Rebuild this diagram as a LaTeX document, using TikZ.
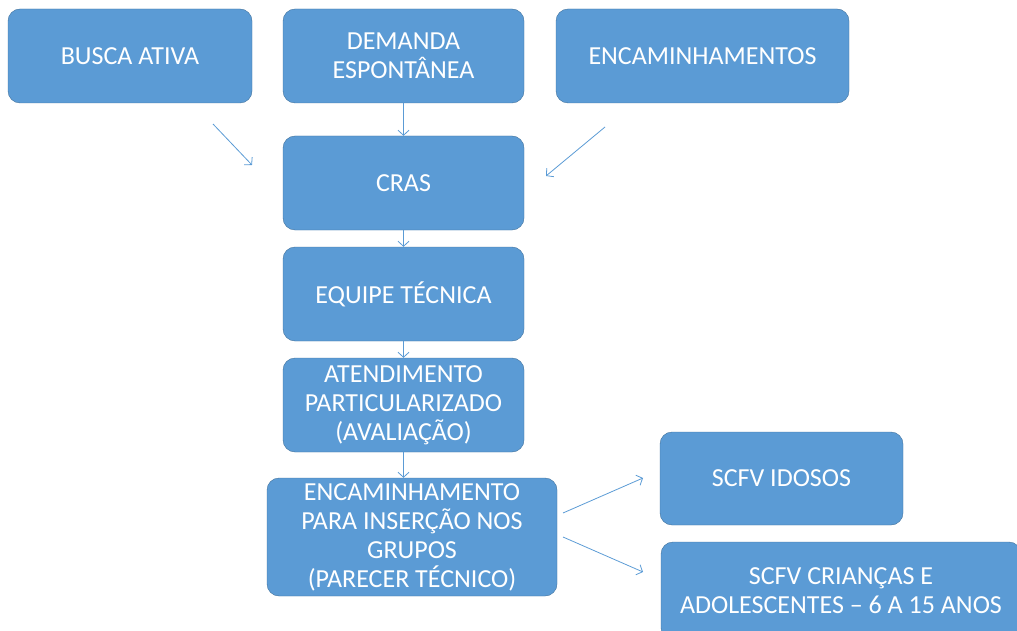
\documentclass[tikz,border=0pt]{standalone}
\usepackage{fontspec}
\setmainfont{Carlito}
\definecolor{boxblue}{RGB}{91,155,213}
\definecolor{boxline}{RGB}{65,113,156}
\tikzset{every picture/.style={/utils/exec={\fontsize{26}{29}\selectfont}}}
\usetikzlibrary{positioning}
\usetikzlibrary{arrows.meta}

\begin{document}
\begin{tikzpicture}[x=1pt,y=-1pt,
  etapa/.style={draw=boxline, fill=boxblue, text=white, rounded corners=12pt,
    align=center, minimum width=241pt, minimum height=94pt, inner sep=0pt},
  seta/.style={-{Straight Barb[length=5pt,width=11pt]}, draw=boxblue, line width=0.8pt}]
  \useasboundingbox (0,0) rectangle (1017,631);

  % entradas
  \node[etapa, minimum width=244pt] (busca) at (130,56) {BUSCA ATIVA};
  \node[etapa] (demanda) at (403.5,56) {DEMANDA\\ESPONTÂNEA};
  \node[etapa, minimum width=293pt] (encs) at (702.5,56) {ENCAMINHAMENTOS};

  % fluxo central
  \node[etapa] (cras) at (403.5,183) {CRAS};
  \node[etapa] (equipe) at (403.5,294) {EQUIPE TÉCNICA};
  \node[etapa] (atend) at (403.5,405) {ATENDIMENTO\\PARTICULARIZADO\\(AVALIAÇÃO)};
  \node[etapa, minimum width=290pt, minimum height=118pt] (encam) at (412,537)
    {ENCAMINHAMENTO\\PARA INSERÇÃO NOS\\GRUPOS\\(PARECER TÉCNICO)};

  % grupos
  \node[etapa, minimum width=243pt, minimum height=93pt] (idosos) at (781.5,478.5) {SCFV IDOSOS};
  \node[etapa, minimum width=360pt, minimum height=98pt] (criancas) at (841,591)
    {SCFV CRIANÇAS E\\ADOLESCENTES – 6 A 15 ANOS};

  \coordinate (ba1) at (213,124);
  \coordinate (ba2) at (252,165);
  \coordinate (en1) at (605,127);
  \coordinate (en2) at (546,176);
  \coordinate (gi1) at (563,513);
  \coordinate (gi2) at (643,478);
  \coordinate (gc1) at (563,537);
  \coordinate (gc2) at (643,572);

  \draw [seta] (ba1) -- (ba2);
  \draw [seta] (en1) -- (en2);
  \draw [seta] (demanda) -- (cras);
  \draw [seta] (cras) -- (equipe);
  \draw [seta] (equipe) -- (atend);
  \draw [seta] (atend.south) -- (atend.south |- encam.north);
  \draw [seta] (gi1) -- (gi2);
  \draw [seta] (gc1) -- (gc2);
\end{tikzpicture}
\end{document}
